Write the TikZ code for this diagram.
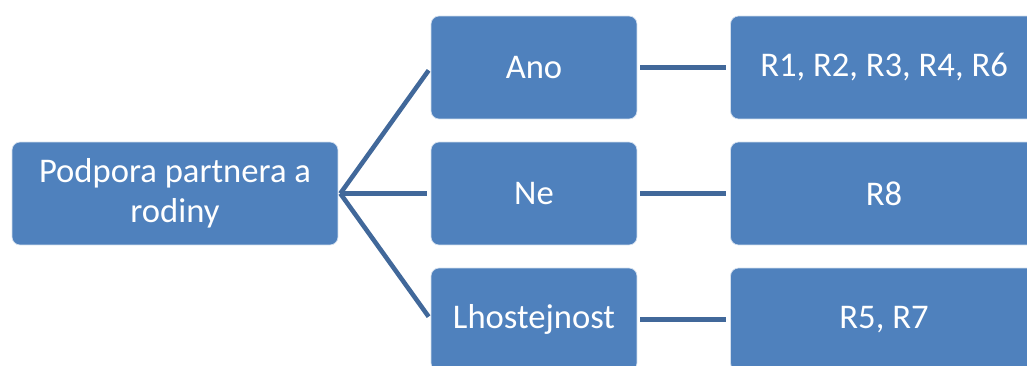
\documentclass[tikz,border=0pt]{standalone}
\usepackage{fontspec}
\setmainfont{Carlito}
\definecolor{boxblue}{HTML}{4F81BD}
\definecolor{linkblue}{HTML}{41689A}
\tikzset{
	box/.style={rectangle, rounded corners=0.16cm, fill=boxblue, draw=white!75!boxblue, line width=0.4pt,
		text=white, font=\fontsize{19.7}{23}\selectfont, align=center, minimum height=2.06cm, inner sep=0pt},
	link/.style={draw=linkblue, line width=2.6pt}
}
\begin{document}
\begin{tikzpicture}[x=0.02cm, y=-0.02cm]
	
	% frame
	\useasboundingbox (0,0) rectangle (1027,365);
	\clip (0,0) rectangle (1027,365);
	
	% root
	\node[box, minimum width=6.52cm] (root) at (175,193.5) {Podpora partnera a\\rodiny};
	
	% answers
	\node[box, minimum width=4.12cm] (ano) at (534,67.5) {Ano};
	\node[box, minimum width=4.12cm] (ne) at (534,193.5) {Ne};
	\node[box, minimum width=4.12cm] (lhost) at (534,319.5) {Lhostejnost};
	
	% results
	\node[box, minimum width=6.14cm] (rano) at (884,67.5) {R1, R2, R3, R4, R6};
	\node[box, minimum width=6.14cm] (rne) at (884,193.5) {R8};
	\node[box, minimum width=6.14cm] (rlhost) at (884,319.5) {R5, R7};
	
	% links
	\coordinate (fork) at ([xshift=0.04cm]root.east);
	\draw[link, shorten >=0.07cm] (fork) -- (ano.west);
	\draw[link, shorten >=0.07cm] (fork) -- (ne.west);
	\draw[link, shorten >=0.07cm] (fork) -- (lhost.west);
	
	\draw[link, shorten <=0.06cm, shorten >=0.08cm] (ano.east) -- (rano.west);
	\draw[link, shorten <=0.06cm, shorten >=0.08cm] (ne.east) -- (rne.west);
	\draw[link, shorten <=0.06cm, shorten >=0.08cm] (lhost.east) -- (rlhost.west);
	
\end{tikzpicture}
\end{document}
